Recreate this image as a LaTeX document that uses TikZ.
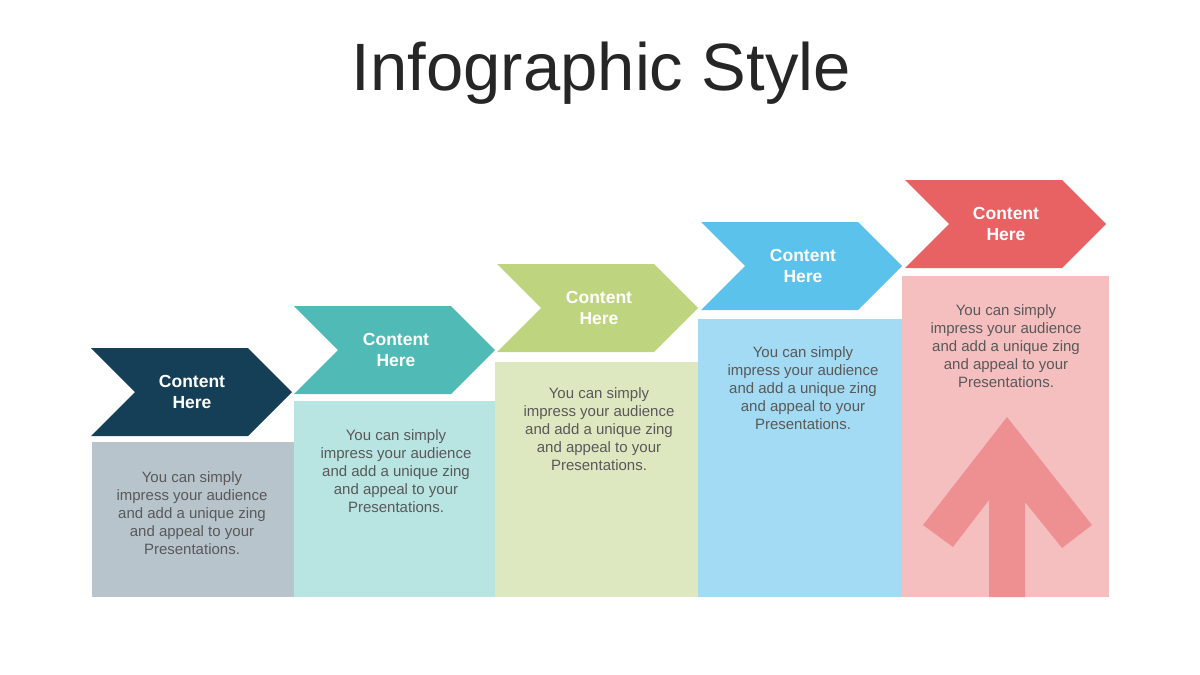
\documentclass[tikz,border=0pt]{standalone}
\usepackage{fontspec}
\setmainfont{Liberation Sans}
\definecolor{cA}{HTML}{143F56}
\definecolor{cB}{HTML}{4FBAB6}
\definecolor{cC}{HTML}{BFD47F}
\definecolor{cD}{HTML}{5BC3EB}
\definecolor{cE}{HTML}{E86264}
\definecolor{bA}{HTML}{B8C4CC}
\definecolor{bB}{HTML}{B8E4E2}
\definecolor{bC}{HTML}{DEE8C0}
\definecolor{bD}{HTML}{A2DBF3}
\definecolor{bE}{HTML}{F5BFC0}
\definecolor{arr}{HTML}{EE9092}
\definecolor{bodytext}{HTML}{595959}
\definecolor{titletext}{HTML}{262626}
\tikzset{
  chevlabel/.style={text=white, align=center, font=\bfseries\fontsize{17.5}{21}\selectfont, inner sep=0pt},
  boxlabel/.style={text=bodytext, align=center, font=\fontsize{15}{18}\selectfont, inner sep=0pt},
}
\newcommand{\chev}[3]{% left, top, color
  \fill[#3] (#1,#2) -- ++(157,0) -- ++(44,44) -- ++(-44,44) -- ++(-157,0) -- ++(44,-44) -- cycle;
}
\begin{document}
\begin{tikzpicture}[x=1pt,y=-1pt]
\useasboundingbox (0,0) rectangle (1200,675);
\node[text=titletext, font=\fontsize{67}{75}\selectfont, inner sep=0pt, anchor=base] (title) at (601.5,90) {Infographic Style};
% boxes
\fill[bA] (92,442) rectangle (294,597);
\fill[bB] (294,401) rectangle (495,597);
\fill[bC] (495,362) rectangle (698,597);
\fill[bD] (698,319) rectangle (902,597);
\fill[bE] (902,276) rectangle (1109,597);
% arrow in last box
\fill[arr] (1007,417) -- (1092,525) -- (1062,548) -- (1025,502) -- (1025,597) -- (989,597) -- (989,500) -- (953,547) -- (923,525) -- cycle;
% chevrons
\chev{91}{348}{cA}
\chev{294}{306}{cB}
\chev{497}{264}{cC}
\chev{701}{222}{cD}
\chev{905}{180}{cE}
% chevron labels
\node[chevlabel] (h1) at (192,392) {Content\\Here};
\node[chevlabel] (h2) at (396,350) {Content\\Here};
\node[chevlabel] (h3) at (599,308) {Content\\Here};
\node[chevlabel] (h4) at (803,266) {Content\\Here};
\node[chevlabel] (h5) at (1006,224) {Content\\Here};
% box labels
\node[boxlabel] (t1) at (192,513) {You can simply\\impress your audience\\and add a unique zing\\and appeal to your\\Presentations.};
\node[boxlabel] (t2) at (396,471) {You can simply\\impress your audience\\and add a unique zing\\and appeal to your\\Presentations.};
\node[boxlabel] (t3) at (599,429) {You can simply\\impress your audience\\and add a unique zing\\and appeal to your\\Presentations.};
\node[boxlabel] (t4) at (803,388) {You can simply\\impress your audience\\and add a unique zing\\and appeal to your\\Presentations.};
\node[boxlabel] (t5) at (1006,346) {You can simply\\impress your audience\\and add a unique zing\\and appeal to your\\Presentations.};
\end{tikzpicture}
\end{document}
